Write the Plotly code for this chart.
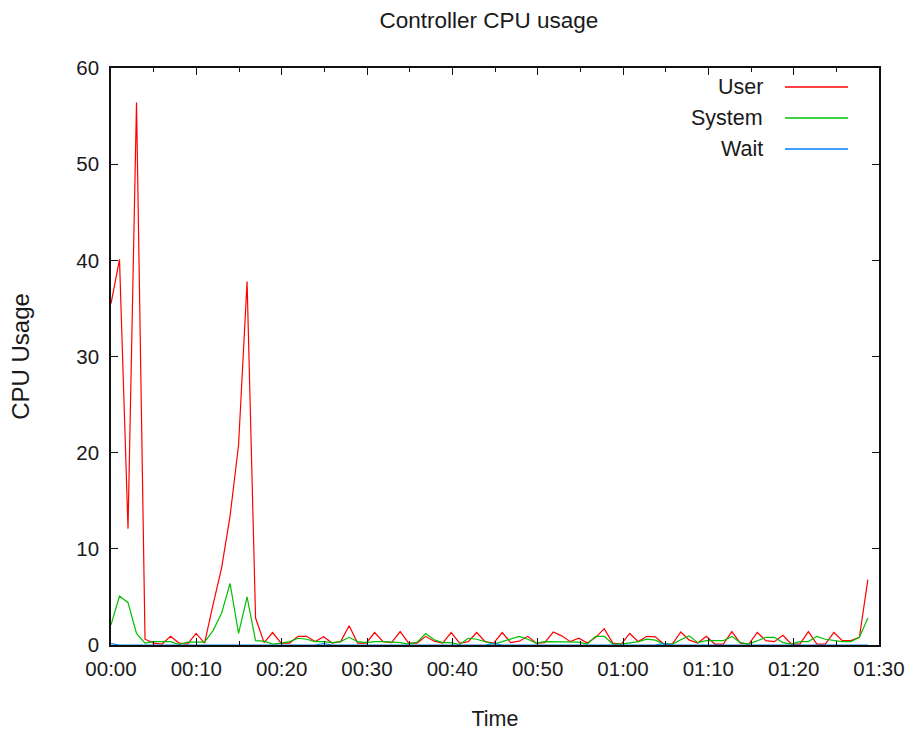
import plotly.graph_objects as go

# ---- data (one sample roughly every minute) ----
SAMPLE_INTERVAL_MIN = 0.9966  # minutes between samples

user = [35.5, 40.1, 12.1, 56.4, 0.6, 0.2, 0.1, 0.9, 0.2, 0.1,
        1.2, 0.2, 4.2, 8.0, 13.4, 20.8, 37.8, 2.8, 0.25, 1.3,
        0.2, 0.2, 0.9, 0.9, 0.35, 0.85, 0.2, 0.35, 2.0, 0.2,
        0.2, 1.3, 0.35, 0.25, 1.4, 0.2, 0.2, 0.9, 0.4, 0.2,
        1.3, 0.2, 0.35, 1.3, 0.35, 0.2, 1.3, 0.25, 0.4, 0.9,
        0.2, 0.25, 1.35, 0.95, 0.35, 0.7, 0.2, 0.8, 1.7, 0.2,
        0.1, 1.2, 0.35, 0.9, 0.85, 0.1, 0.1, 1.35, 0.5, 0.2,
        0.9, 0.1, 0.1, 1.4, 0.2, 0.1, 1.3, 0.45, 0.35, 1.0,
        0.1, 0.1, 1.4, 0.1, 0.1, 1.3, 0.45, 0.45, 0.8, 6.8]

system = [2.1, 5.1, 4.4, 1.2, 0.2, 0.35, 0.35, 0.35, 0.05, 0.3,
          0.3, 0.3, 1.5, 3.3, 6.4, 1.2, 5.0, 0.45, 0.4, 0.1,
          0.2, 0.35, 0.7, 0.6, 0.35, 0.35, 0.25, 0.35, 0.8, 0.35,
          0.25, 0.35, 0.35, 0.3, 0.25, 0.1, 0.3, 1.2, 0.55, 0.25,
          0.25, 0.05, 0.7, 0.6, 0.35, 0.1, 0.35, 0.6, 0.9, 0.6,
          0.2, 0.35, 0.35, 0.35, 0.35, 0.3, 0.1, 0.9, 0.9, 0.1,
          0.1, 0.25, 0.35, 0.6, 0.5, 0.1, 0.1, 0.55, 0.95, 0.25,
          0.45, 0.45, 0.45, 0.9, 0.25, 0.1, 0.45, 0.8, 0.8, 0.25,
          0.1, 0.35, 0.35, 0.9, 0.6, 0.45, 0.35, 0.35, 0.8, 2.8]

wait = [0.15, 0, 0, 0, 0, 0, 0, 0, 0, 0,
        0, 0, 0, 0, 0, 0, 0, 0, 0, 0,
        0, 0, 0, 0, 0, 0.15, 0, 0, 0, 0,
        0, 0, 0, 0, 0, 0, 0, 0, 0, 0,
        0, 0, 0, 0, 0, 0.15, 0, 0, 0, 0,
        0, 0, 0, 0, 0, 0, 0, 0, 0, 0,
        0, 0, 0, 0, 0, 0.15, 0, 0, 0, 0,
        0, 0, 0, 0, 0, 0, 0, 0, 0, 0,
        0, 0, 0, 0, 0, 0, 0, 0, 0, 0]

tick_minutes = [0, 10, 20, 30, 40, 50, 60, 70, 80, 90]
tick_labels = ["00:00", "00:10", "00:20", "00:30", "00:40",
               "00:50", "01:00", "01:10", "01:20", "01:30"]

series_names = ["User", "System", "Wait"]
series_colors = ["#ff0000", "#00c000", "#0080ff"]

minutes = [i * SAMPLE_INTERVAL_MIN for i in range(len(user))]

FONT = "Liberation Sans"
TXT = "#1a1a1a"

fig = go.Figure()
for name, vals, col in zip(series_names, [user, system, wait], series_colors):
    fig.add_trace(go.Scatter(x=minutes, y=vals, mode="lines", name=name,
                             line=dict(color=col, width=1.2),
                             showlegend=False))

# gnuplot-style key: text right-aligned, sample line on its right
key_y = [0.9671, 0.9133, 0.8596]
for name, col, ky in zip(series_names, series_colors, key_y):
    fig.add_annotation(x=0.8516, y=ky, xref="paper", yref="paper",
                       text=name, showarrow=False, xanchor="right",
                       yanchor="middle",
                       font=dict(family=FONT, size=21.5, color=TXT))
    fig.add_shape(type="line", xref="paper", yref="paper",
                  x0=0.8776, x1=0.9596, y0=ky, y1=ky,
                  line=dict(color=col, width=1.5))

axis_common = dict(showline=True, linecolor="#111111", linewidth=1.6,
                   mirror="allticks", ticks="inside", tickcolor="#111111",
                   ticklen=7, tickwidth=1, showgrid=False, zeroline=False,
                   automargin=False, layer="above traces",
                   tickfont=dict(family=FONT, size=20.5, color=TXT))

fig.update_xaxes(range=[0, 90], tickmode="array", tickvals=tick_minutes,
                 ticktext=tick_labels, ticklabelstandoff=5,
                 minor=dict(ticks="inside", dtick=5, ticklen=4,
                            tickcolor="#111111", showgrid=False),
                 title=dict(text="Time", standoff=32,
                            font=dict(family=FONT, size=21.5, color=TXT)),
                 **axis_common)
fig.update_yaxes(range=[0, 60], dtick=10, ticklabelstandoff=6,
                 title=dict(text="CPU Usage", standoff=40,
                            font=dict(family=FONT, size=24, color=TXT)),
                 **axis_common)

fig.update_layout(
    width=908, height=732,
    margin=dict(l=111, r=29, t=68, b=87, autoexpand=False),
    paper_bgcolor="white", plot_bgcolor="white",
    title=dict(text="Controller CPU usage", x=0.492, xref="paper",
               xanchor="center", y=1 - 20 / 732, yref="container",
               yanchor="middle",
               font=dict(family=FONT, size=22.5, color=TXT)),
    showlegend=False,
)

# remove the browser's default 8px body margin so the figure fills the window
fig.write_html("out.html",
               config={"displayModeBar": False},
               post_script="document.body.style.margin='0';"
                           "document.body.style.overflow='hidden';")
